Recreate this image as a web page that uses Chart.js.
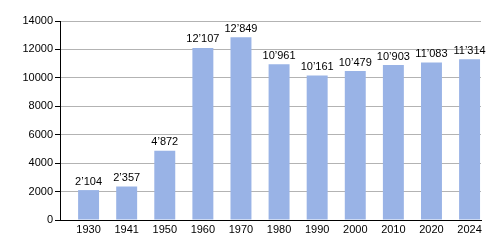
<!DOCTYPE html>
<html>
<head>
<meta charset="utf-8">
<script src="https://cdn.jsdelivr.net/npm/chart.js@4/dist/chart.umd.min.js"></script>
<style>
  html, body { margin: 0; padding: 0; background: #fff; }
  #wrap { width: 500px; height: 250px; }
</style>
</head>
<body>
<div id="wrap"><canvas id="myChart" width="500" height="250"></canvas></div>
<script>
// --- Data ---
const years  = ['1930', '1941', '1950', '1960', '1970', '1980', '1990', '2000', '2010', '2020', '2024'];
const people = [2104, 2357, 4872, 12107, 12849, 10961, 10161, 10479, 10903, 11083, 11314];
const yTicks = [0, 2000, 4000, 6000, 8000, 10000, 12000, 14000];

const FONT = 'Liberation Sans, Arial, sans-serif';

// swiss style thousands: 12'107
function fmt(v) {
  return String(v).replace(/\B(?=(\d{3})+(?!\d))/g, '\u2019');
}

const isMajor = v => v % 2000 === 0;

// value labels above bars + short minor ticks on the y axis
const barLabels = {
  id: 'barLabels',
  afterDatasetsDraw(chart) {
    const c = chart.ctx;
    const meta = chart.getDatasetMeta(0);
    c.save();
    c.font = '11px ' + FONT;
    c.fillStyle = '#000';
    c.textAlign = 'center';
    c.textBaseline = 'bottom';
    meta.data.forEach((bar, i) => {
      c.fillText(fmt(people[i]), bar.x, bar.y - 3);
    });

    // minor ticks
    const y = chart.scales.y;
    const left = chart.chartArea.left;
    c.strokeStyle = '#000';
    c.lineWidth = 1;
    y.ticks.forEach(t => {
      if (isMajor(t.value)) return;
      const py = Math.round(y.getPixelForValue(t.value)) + 0.5;
      c.beginPath();
      c.moveTo(left - 3, py);
      c.lineTo(left, py);
      c.stroke();
    });
    c.restore();
  }
};

const ctx = document.getElementById('myChart').getContext('2d');
const chart = new Chart(ctx, {
  type: 'bar',
  data: {
    datasets: [{
      data: people.map((v, i) => ({ x: i, y: v })),
      backgroundColor: '#99b3e6',
      borderWidth: 0,
      barPercentage: 0.55,
      categoryPercentage: 1
    }]
  },
  options: {
    responsive: false,
    animation: false,
    layout: { padding: { left: 0, right: 19, top: 21, bottom: 0 } },
    plugins: { legend: { display: false }, tooltip: { enabled: false } },
    scales: {
      x: {
        type: 'linear',
        min: -0.75,
        max: 10.3,
        offset: false,
        afterBuildTicks: s => {
          s.ticks = years.map((_, i) => ({ value: i }));
        },
        grid: { display: false, drawTicks: false },
        border: { color: '#000', width: 1 },
        ticks: {
          color: '#000',
          font: { family: FONT, size: 11 },
          padding: 3,
          autoSkip: false,
          maxRotation: 0,
          callback: v => years[v]
        },
        afterFit: s => { s.height = 30; }
      },
      y: {
        min: 0,
        max: 14000,
        afterBuildTicks: s => {
          s.ticks = [];
          for (let v = 0; v <= 14000; v += 1000) s.ticks.push({ value: v });
        },
        grid: {
          color: t => (isMajor(t.tick.value) ? '#b3b3b3' : '#e6e6e6'),
          tickColor: t => (isMajor(t.tick.value) ? '#000' : 'rgba(0,0,0,0)'),
          tickLength: 5
        },
        border: { color: '#000', width: 1 },
        ticks: {
          color: '#000',
          font: { family: FONT, size: 11 },
          padding: 2,
          callback: v => (yTicks.includes(v) ? String(v) : '')
        },
        afterFit: s => { s.width = 60; }
      }
    }
  },
  plugins: [barLabels]
});
</script>
</body>
</html>
